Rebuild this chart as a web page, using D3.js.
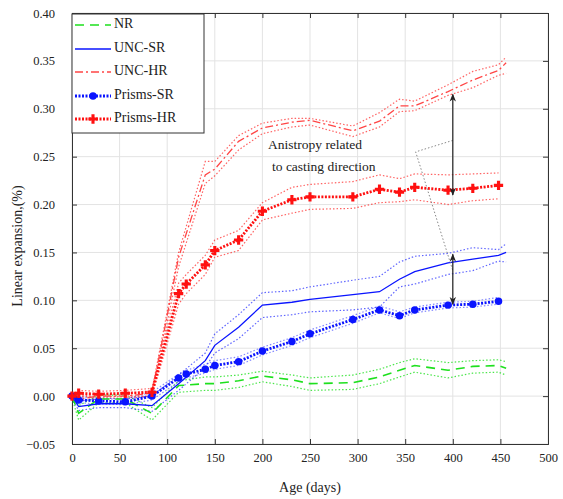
<!DOCTYPE html>
<html><head><meta charset="utf-8">
<script src="https://cdn.jsdelivr.net/npm/d3@7"></script>
<style>body{margin:0;background:#fff}svg text{font-family:"Liberation Serif","Times New Roman",serif;fill:#222}</style>
</head><body><svg id="c" width="563" height="499"></svg>
<script>
const xTicks = [0,50,100,150,200,250,300,350,400,450,500];
const yTicks = [-0.05,0,0.05,0.10,0.15,0.20,0.25,0.30,0.35,0.40];

const daysUnc = [0,7,28,56,84,112,140,150,175,200,231,250,295,323,344,360,395,421,448,456];
const nrMean  = [0,-0.018,-0.003,-0.003,-0.018,0.011,0.013,0.013,0.016,0.021,0.017,0.013,0.014,0.020,0.027,0.032,0.027,0.031,0.032,0.029];
const nrUp    = [0.002,-0.010,0.001,0.001,-0.012,0.016,0.020,0.020,0.022,0.026,0.022,0.019,0.022,0.028,0.035,0.039,0.035,0.037,0.038,0.036];
const nrLo    = [-0.002,-0.025,-0.007,-0.007,-0.025,0.004,0.006,0.006,0.009,0.015,0.010,0.006,0.007,0.013,0.020,0.025,0.019,0.024,0.025,0.022];
const uncSrMean = [0,-0.011,-0.008,-0.008,-0.010,0.013,0.037,0.053,0.072,0.095,0.098,0.101,0.106,0.109,0.122,0.130,0.139,0.143,0.147,0.150];
const uncSrUp   = [0.002,-0.005,-0.003,-0.003,0.000,0.022,0.045,0.065,0.085,0.108,0.110,0.114,0.121,0.125,0.140,0.146,0.149,0.155,0.153,0.159];
const uncSrLo   = [-0.002,-0.015,-0.012,-0.012,-0.016,0.006,0.030,0.045,0.060,0.082,0.085,0.088,0.090,0.093,0.114,0.117,0.127,0.131,0.141,0.140];
const uncHrMean = [0,-0.003,0,0,0.003,0.145,0.231,0.237,0.266,0.280,0.286,0.288,0.277,0.287,0.303,0.303,0.318,0.330,0.340,0.348];
const uncHrUp   = [0.002,0.000,0.002,0.002,0.006,0.150,0.245,0.245,0.272,0.285,0.290,0.290,0.282,0.296,0.310,0.308,0.325,0.339,0.346,0.354];
const uncHrLo   = [-0.002,-0.005,-0.002,-0.002,0.000,0.135,0.222,0.230,0.257,0.274,0.281,0.283,0.271,0.281,0.297,0.298,0.314,0.322,0.335,0.337];

const daysPrism = [0,7,28,56,84,112,120,140,150,175,200,231,250,295,323,344,360,395,421,448];
const prSrMean = [0,-0.004,-0.005,-0.006,0.000,0.019,0.023,0.028,0.032,0.036,0.047,0.057,0.065,0.080,0.090,0.084,0.090,0.095,0.096,0.099];
const prSrUp   = [0.002,-0.001,-0.002,-0.003,0.004,0.023,0.027,0.033,0.037,0.041,0.051,0.061,0.069,0.084,0.094,0.088,0.093,0.098,0.099,0.103];
const prSrLo   = [-0.002,-0.007,-0.008,-0.009,-0.004,0.015,0.019,0.024,0.028,0.032,0.043,0.053,0.061,0.076,0.087,0.081,0.087,0.092,0.093,0.096];
const prHrMean = [0,0.003,0.002,0.003,0.004,0.107,0.117,0.137,0.152,0.163,0.193,0.205,0.208,0.208,0.216,0.213,0.218,0.215,0.217,0.220];
const prHrUp   = [0.002,0.006,0.005,0.006,0.008,0.118,0.127,0.147,0.163,0.173,0.202,0.218,0.221,0.224,0.231,0.227,0.232,0.231,0.232,0.233];
const prHrLo   = [-0.002,0.000,-0.001,0.000,0.000,0.096,0.107,0.127,0.145,0.152,0.184,0.191,0.195,0.196,0.202,0.203,0.205,0.200,0.204,0.206];

const legendLabels = ["NR","UNC-SR","UNC-HR","Prisms-SR","Prisms-HR"];
const annotationLines = ["Anistropy related","to casting direction"];
const arrowDay = 400;
const arrowHR = [0.315, 0.210];
const arrowSR = [0.148, 0.096];
const bracketDays = [400, 361, 400];
const bracketVals = [0.267, 0.255, 0.131];

const svg = d3.select("#c");
const L=72,R=548,T=13,B=444;
const x = d3.scaleLinear().domain([0,500]).range([L,R]);
const y = d3.scaleLinear().domain([-0.05,0.40]).range([B,T]);

// grid
const g = svg.append("g");
g.selectAll(".gx").data(xTicks).join("line").attr("x1",d=>x(d)).attr("x2",d=>x(d)).attr("y1",T).attr("y2",B).attr("stroke","#e3e3e3");
g.selectAll(".gy").data(yTicks).join("line").attr("y1",d=>y(d)).attr("y2",d=>y(d)).attr("x1",L).attr("x2",R).attr("stroke","#e3e3e3");

// axes with inward ticks
const fmt = d3.format(".2f");
const ax = svg.append("g").attr("transform",`translate(0,${B})`).call(d3.axisBottom(x).tickValues(xTicks).tickSize(-5).tickPadding(9).tickFormat(d3.format("d")));
const ay = svg.append("g").attr("transform",`translate(${L},0)`).call(d3.axisLeft(y).tickValues(yTicks).tickSize(-5).tickPadding(17).tickFormat(fmt));
const at = svg.append("g").attr("transform",`translate(0,${T})`).call(d3.axisTop(x).tickValues(xTicks).tickSize(-5).tickFormat(""));
const ar = svg.append("g").attr("transform",`translate(${R},0)`).call(d3.axisRight(y).tickValues(yTicks).tickSize(-5).tickFormat(""));
[ax,ay,at,ar].forEach(a=>{a.selectAll("path").attr("stroke","#333");a.selectAll("line").attr("stroke","#333");a.selectAll("text").attr("font-size",12.5).attr("fill","#222").attr("font-family","Liberation Serif, serif");});

const line = d3.line().x(d=>x(d[0])).y(d=>y(d[1]));
const zip = (a,b)=>a.map((v,i)=>[v,b[i]]);
const plot = svg.append("g");
function path(days, vals, color, width, dash, op){
  plot.append("path").attr("d",line(zip(days,vals))).attr("fill","none").attr("stroke",color)
    .attr("stroke-width",width).attr("stroke-dasharray",dash).attr("opacity",op||1);
}
const GREEN="#1ee01e", BLUE="#0a14ff", RED="#ff1010", LRED="#ff4545";
const envDash="1.5,2";
// envelopes
path(daysUnc,nrUp,GREEN,1.2,envDash,0.8); path(daysUnc,nrLo,GREEN,1.2,envDash,0.8);
path(daysUnc,uncSrUp,BLUE,1.2,envDash,0.65); path(daysUnc,uncSrLo,BLUE,1.2,envDash,0.65);
path(daysUnc,uncHrUp,RED,1.2,envDash,0.65); path(daysUnc,uncHrLo,RED,1.2,envDash,0.65);
path(daysPrism,prSrUp,BLUE,1.2,envDash,0.5); path(daysPrism,prSrLo,BLUE,1.2,envDash,0.5);
path(daysPrism,prHrUp,RED,1.2,envDash,0.65); path(daysPrism,prHrLo,RED,1.2,envDash,0.65);
// mean lines
path(daysUnc,nrMean,GREEN,1.6,"9,6");
path(daysUnc,uncSrMean,BLUE,1.3,null);
path(daysUnc,uncHrMean,LRED,1.3,"8,3,2,3");
path(daysPrism,prSrMean,BLUE,2.8,"2,1.5");
const diamond = d3.symbol().type(d3.symbolCircle).size(44);
plot.selectAll(".msr").data(zip(daysPrism,prSrMean)).join("path").attr("d",diamond).attr("transform",d=>`translate(${x(d[0])},${y(d[1])})`).attr("fill",BLUE);
path(daysPrism,prHrMean,RED,2.8,"2,1.5");
const cross = d3.symbol().type(d3.symbolCross).size(48);
plot.selectAll(".mhr").data(zip(daysPrism,prHrMean)).join("path").attr("d",cross).attr("transform",d=>`translate(${x(d[0])},${y(d[1])})`).attr("fill",RED);

// annotation
svg.append("path").attr("d",line(zip(bracketDays,bracketVals))).attr("fill","none").attr("stroke","#888").attr("stroke-width",1).attr("stroke-dasharray","1.5,2");
const defs = svg.append("defs");
defs.append("marker").attr("id","ah").attr("viewBox","0 0 10 10").attr("refX",9).attr("refY",5)
  .attr("markerWidth",8).attr("markerHeight",8).attr("markerUnits","userSpaceOnUse").attr("orient","auto-start-reverse")
  .append("path").attr("d","M0,1 L10,5 L0,9 L3,5 Z").attr("fill","#222");
[arrowHR,arrowSR].forEach(a=>{
  svg.append("line").attr("x1",x(arrowDay)).attr("x2",x(arrowDay)).attr("y1",y(a[0])).attr("y2",y(a[1]))
   .attr("stroke","#222").attr("stroke-width",1.2).attr("marker-start","url(#ah)").attr("marker-end","url(#ah)");
});
svg.append("text").attr("x",268).attr("y",149).attr("font-size",13.5).text(annotationLines[0]);
svg.append("text").attr("x",272).attr("y",171).attr("font-size",13.5).text(annotationLines[1]);

// labels
svg.append("text").attr("x",(L+R)/2).attr("y",492).attr("text-anchor","middle").attr("font-size",14).text("Age (days)");
svg.append("text").attr("transform","translate(22,246) rotate(-90)").attr("text-anchor","middle").attr("font-size",14).text("Linear expansion,(%)");

// legend
const lg = svg.append("g");
lg.append("rect").attr("x",72).attr("y",14).attr("width",132).attr("height",119).attr("fill","#fff").attr("stroke","#333");
const rowsY=[25,49,72,96,119];
const styles=[{c:GREEN,w:1.6,d:"9,6"},{c:BLUE,w:1.3,d:null},{c:LRED,w:1.3,d:"8,3,2,3"},{c:BLUE,w:2.8,d:"2,1.5",m:"c"},{c:RED,w:2.8,d:"2,1.5",m:"x"}];
legendLabels.forEach((lab,i)=>{
  const s=styles[i], yy=rowsY[i];
  lg.append("line").attr("x1",75).attr("x2",111).attr("y1",yy).attr("y2",yy).attr("stroke",s.c).attr("stroke-width",s.w).attr("stroke-dasharray",s.d);
  if(s.m==="c") lg.append("path").attr("d",diamond).attr("transform",`translate(93,${yy})`).attr("fill",BLUE);
  if(s.m==="x") lg.append("path").attr("d",cross).attr("transform",`translate(93,${yy})`).attr("fill",RED);
  lg.append("text").attr("x",114).attr("y",yy+3).attr("font-size",14).text(lab);
});
</script></body></html>
